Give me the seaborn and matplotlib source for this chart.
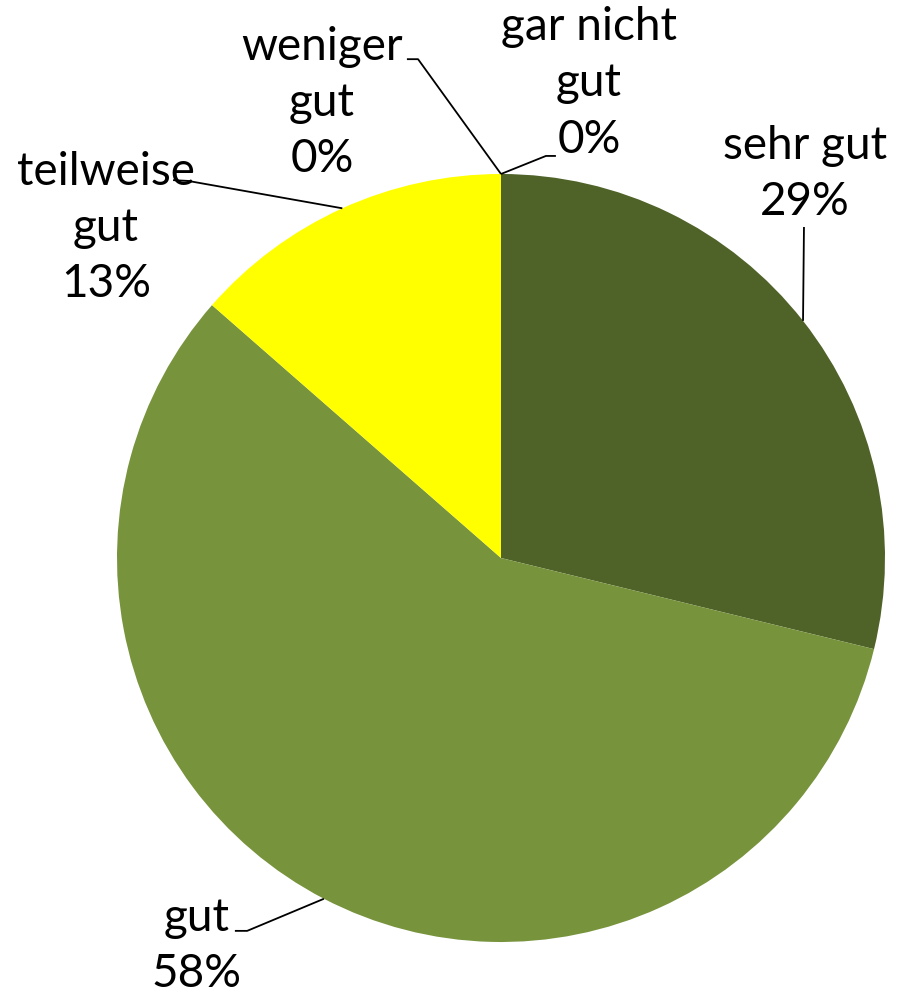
import numpy as np
import matplotlib
matplotlib.use("Agg")
import matplotlib.pyplot as plt
import seaborn as sns

# Bewertung (Anzahl Antworten)
categories = ["sehr gut", "gut", "teilweise gut", "weniger gut", "gar nicht gut"]
counts = [17, 34, 8, 0, 0]
label_texts = ["sehr gut\n29%", "gut\n58%", "teilweise\ngut\n13%", "weniger\ngut\n0%", "gar nicht\ngut\n0%"]
colors = ["#4F6228", "#77933C", "#FFFF00", "#C0504D", "#8064A2"]

sns.set_theme(style="white")
plt.rcParams["font.family"] = ["Lato", "DejaVu Sans"]

fig = plt.figure(figsize=(9.03, 9.94), dpi=100)
ax = fig.add_axes([0, 0, 1, 1])

wedges, _ = ax.pie(counts, colors=colors, startangle=90, counterclock=False,
                   radius=1.0, center=(0, 0), wedgeprops=dict(linewidth=0))
ax.set_xlim(-1.3047, 1.0469)
ax.set_ylim(-1.1354, 1.4531)
ax.set_aspect("auto")
ax.axis("off")

# label centre (text) and where the leader line ends near the label (elbow)
label_pos = [(0.792, 1.000), (-0.792, -1.010), (-1.029, 0.859), (-0.466, 1.185), (0.229, 1.236)]
elbows = [[(0.789, 0.862)],
          [(-0.661, -0.971), (-0.693, -0.971)],
          [(-0.815, 0.982), (-0.854, 0.984)],
          [(-0.216, 1.299), (-0.245, 1.299)],
          [(0.117, 1.047), (0.143, 1.047)]]

total = float(sum(counts))
start = 90.0
for i, val in enumerate(counts):
    sweep = val / total * 360.0
    mid = np.deg2rad(start - sweep / 2)
    start -= sweep
    edge = (np.cos(mid), np.sin(mid))
    pts = [edge] + elbows[i]
    xs, ys = zip(*pts)
    ax.plot(xs, ys, color="black", lw=1.3, solid_capstyle="butt")
    ax.text(label_pos[i][0], label_pos[i][1], label_texts[i], ha="center", va="center",
            fontsize=33, linespacing=1.42, color="black")

fig.savefig("out.png", dpi=100)
